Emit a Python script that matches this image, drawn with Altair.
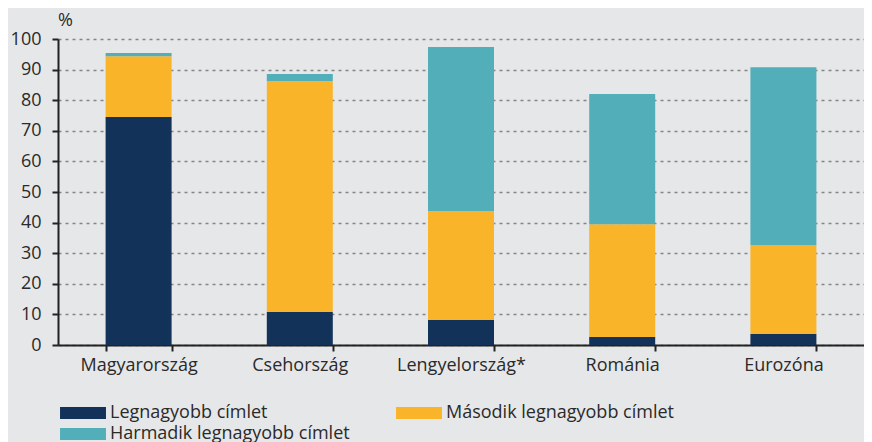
import altair as alt
import pandas as pd

countries = ["Magyarország", "Csehország", "Lengyelország*", "Románia", "Eurozóna"]
series = ["Legnagyobb címlet", "Második legnagyobb címlet", "Harmadik legnagyobb címlet"]
largest = [74.5, 10.8, 8.2, 2.6, 3.6]
second = [19.9, 75.5, 35.6, 36.9, 29.1]
third = [1.0, 2.3, 53.6, 42.5, 58.1]
colors = ["#13325a", "#f9b42a", "#52afba"]
y_ticks = [0, 10, 20, 30, 40, 50, 60, 70, 80, 90, 100]

rows = []
for i, c in enumerate(countries):
    for j, (s, vals) in enumerate(zip(series, [largest, second, third])):
        rows.append({"country": c, "series": s, "value": vals[i], "ord": j})
df = pd.DataFrame(rows)

FONT = "Open Sans"
TXT = "#2a2a2a"
FS = 18

chart = alt.Chart(df).mark_bar(size=66).encode(
    x=alt.X("country:N", sort=countries, title=None,
            scale=alt.Scale(paddingInner=0.59, paddingOuter=0.295),
            axis=alt.Axis(labelAngle=0, tickBand="extent", domainColor="#222",
                          domainWidth=2, tickColor="#222", tickWidth=2, tickSize=6,
                          labelFontSize=FS, labelColor=TXT, labelFont=FONT,
                          labelPadding=5, grid=False)),
    y=alt.Y("value:Q", stack="zero", title="%",
            scale=alt.Scale(domain=[0, 100], nice=False),
            axis=alt.Axis(values=y_ticks, domainColor="#222", domainWidth=2,
                          tickColor="#222", tickWidth=2, tickSize=6,
                          labelFontSize=FS, labelColor=TXT, labelFont=FONT,
                          labelPadding=11, grid=True, gridColor="#858585",
                          gridDash=[3, 4], gridWidth=1.5,
                          titleAngle=0, titleX=7, titleY=-19, titleAlign="center",
                          titleBaseline="middle", titleFontSize=FS,
                          titleFontWeight="normal", titleColor=TXT, titleFont=FONT)),
    color=alt.Color("series:N", sort=series,
                    scale=alt.Scale(domain=series, range=colors),
                    legend=alt.Legend(title=None, orient="none", legendX=16, legendY=365,
                                      direction="horizontal",
                                      columns=2, columnPadding=46, rowPadding=3,
                                      symbolType="M-3.83,-1L3.83,-1L3.83,1L-3.83,1Z",
                                      symbolSize=144, symbolStrokeWidth=0,
                                      symbolOpacity=1,
                                      labelFontSize=FS, labelColor=TXT, labelFont=FONT,
                                      labelOffset=18, labelLimit=400)),
    order=alt.Order("ord:Q", sort="ascending"),
).properties(
    width=806, height=306,
    autosize=alt.AutoSizeParams(type="none"),
    padding={"left": 50, "top": 31, "right": 0, "bottom": 97},
    background="#e6e7e9",
).configure_view(stroke=None)

chart.save("out.html", embed_options={"renderer": "svg", "actions": False})
